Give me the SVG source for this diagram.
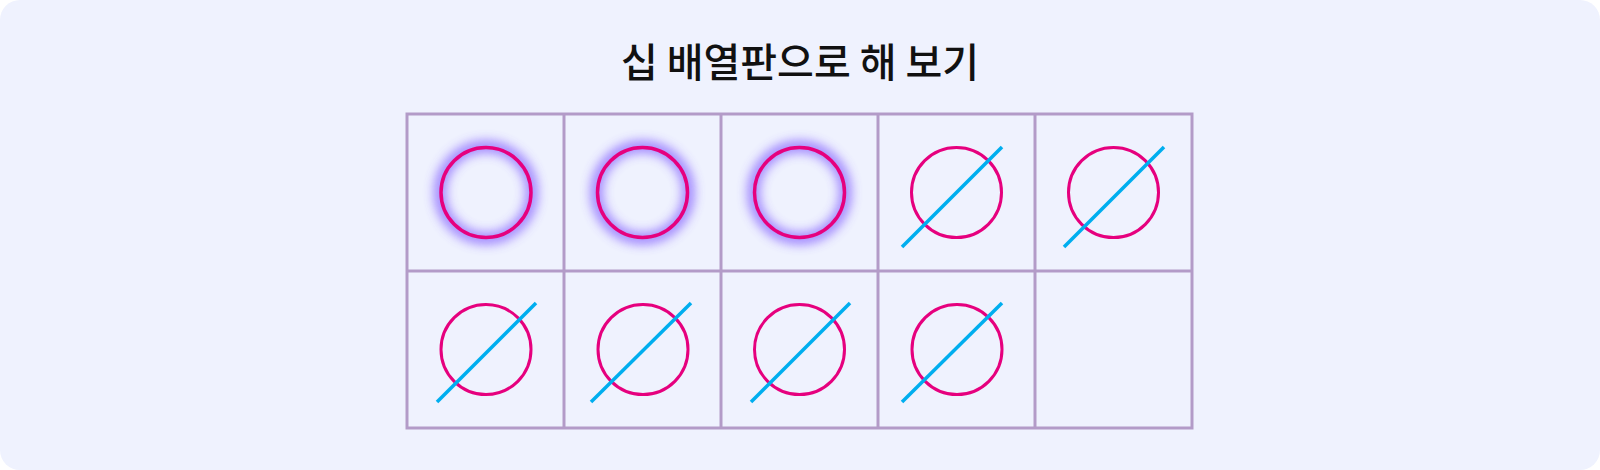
<svg xmlns="http://www.w3.org/2000/svg" width="1600" height="470" viewBox="0 0 1600 470">
<defs>
<style>
.bg{fill:#eff2fe}
.title{font-family:"Noto Sans CJK KR","Noto Sans",sans-serif;font-size:40px;font-weight:500;fill:#111;text-anchor:middle}
.grid{fill:none;stroke:#b39bc8;stroke-width:3}
.ring{fill:none;stroke:#e6007e;stroke-width:3}
.ring2{fill:none;stroke:#e6007e;stroke-width:3.5}
.slash{stroke:#00aeef;stroke-width:3.5;stroke-linecap:butt}
.glow{fill:none;stroke:#7a55ff;stroke-width:10;opacity:0.85;filter:url(#blur)}
</style>
<filter id="blur" x="-50%" y="-50%" width="200%" height="200%">
<feGaussianBlur stdDeviation="6"/>
</filter>
</defs>
<rect class="bg" x="0" y="0" width="1600" height="470" rx="20" ry="20"/>
<text class="title" x="800" y="77">십 배열판으로 해 보기</text>
<g id="grid">
<rect class="grid" x="407" y="114" width="785" height="314"/>
<line class="grid" x1="407" y1="271" x2="1192" y2="271"/>
<line class="grid" x1="564" y1="114" x2="564" y2="428"/>
<line class="grid" x1="721" y1="114" x2="721" y2="428"/>
<line class="grid" x1="878" y1="114" x2="878" y2="428"/>
<line class="grid" x1="1035" y1="114" x2="1035" y2="428"/>
</g>
<g id="cell-1-1"><circle class="glow" cx="486" cy="192.5" r="46"/><circle class="ring2" cx="486" cy="192.5" r="45"/></g>
<g id="cell-1-2"><circle class="glow" cx="642.5" cy="192.5" r="46"/><circle class="ring2" cx="642.5" cy="192.5" r="45"/></g>
<g id="cell-1-3"><circle class="glow" cx="799.5" cy="192.5" r="46"/><circle class="ring2" cx="799.5" cy="192.5" r="45"/></g>
<g id="cell-1-4"><circle class="ring" cx="956.5" cy="192.5" r="45"/><line class="slash" x1="902" y1="247" x2="1002" y2="147"/></g>
<g id="cell-1-5"><circle class="ring" cx="1113.5" cy="192.5" r="45"/><line class="slash" x1="1064" y1="247" x2="1164" y2="147"/></g>
<g id="cell-2-1"><circle class="ring" cx="486" cy="349.5" r="45"/><line class="slash" x1="437" y1="402" x2="536" y2="303"/></g>
<g id="cell-2-2"><circle class="ring" cx="643" cy="349.5" r="45"/><line class="slash" x1="591" y1="402" x2="691" y2="303"/></g>
<g id="cell-2-3"><circle class="ring" cx="799.5" cy="349.5" r="45"/><line class="slash" x1="751" y1="402" x2="850" y2="303"/></g>
<g id="cell-2-4"><circle class="ring" cx="957" cy="349.5" r="45"/><line class="slash" x1="902" y1="402" x2="1002" y2="303"/></g>
<g id="cell-2-5"></g>
</svg>
